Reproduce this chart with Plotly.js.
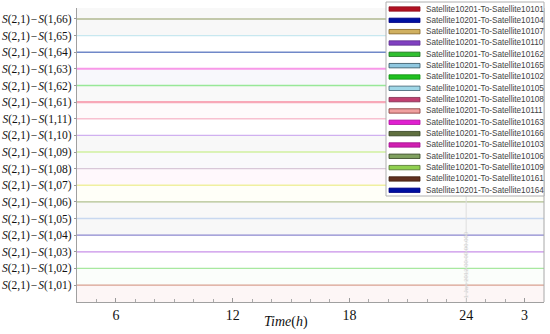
<!DOCTYPE html>
<html>
<head>
<meta charset="utf-8">
<script src="https://cdn.plot.ly/plotly-3.0.1.min.js"></script>
<style>html,body{margin:0;padding:0;background:#fff;}#chart{width:550px;height:334px;}</style>
</head>
<body>
<div id="chart"></div>
<script>
// ---- data ----
// target satellites, bottom row to top row
const targets = ['10101','10102','10103','10104','10105','10106','10107','10108','10109','10110','10111',
                 '10161','10162','10163','10164','10165','10166'];
// row labels (pairs), same order
const rowPairs = ['1,01','1,02','1,03','1,04','1,05','1,06','1,07','1,08','1,09','1,10','1,11',
                  '1,61','1,62','1,63','1,64','1,65','1,66'];
// access interval (hours) for each link, same order
const accessStart = [0,0,0,0,0,0,0,0,0,0,0,0,0,0,0,0,0];
const accessEnd   = [30,30,30,30,30,30,30,30,30,30,30,30,30,30,30,30,30];
// x tick labels
const xTickVals = [6, 12, 18, 24, 27];
const xTickText = ['6', '12', '18', '24', '3'];
// legend order
const legendOrder = ['10101','10104','10107','10110','10162','10165','10102','10105','10108','10111',
                     '10163','10166','10103','10106','10109','10161','10164'];
const markerTime = 24;
const markerText = '1 Jan 2012 00:00:00.000';

// ---- styles ----
const lineColors = ['#d8a090','#a8e8a0','#c890e8','#8c88d0','#c8d8f0','#b0c090','#f0f0a0','#d8c8d8','#d0f0a0',
                    '#d0b0f0','#f8c0d0','#f8a8b8','#98e898','#f898e8','#7088c8','#c8e8f0','#b0b890'];
const lineWidths = [1.3,1.3,1.3,1.3,1.3,1.3,1.3,1.3,1.3,1.3,1.3,2.3,1.3,2,1.3,1.3,1.3];
const swatchFill = {
  '10101':'#b01020','10104':'#0010a0','10107':'#d0b060','10110':'#8040c0','10162':'#30c030','10165':'#90c8e0',
  '10102':'#20c020','10105':'#a0d8e8','10108':'#c04070','10111':'#f0a0a0','10163':'#e020d0','10166':'#607040',
  '10103':'#d020b0','10106':'#80a060','10109':'#90d050','10161':'#603020','10164':'#0010a0'};
const swatchLine = {
  '10101':'#901020','10104':'#000080','10107':'#806020','10110':'#603090','10162':'#207020','10165':'#305060',
  '10102':'#109010','10105':'#406070','10108':'#803050','10111':'#803030','10163':'#b010a0','10166':'#304020',
  '10103':'#a01090','10106':'#304020','10109':'#507030','10161':'#402010','10164':'#000080'};
// background band colours, from below the first row upward
const bandColors = ['#fdf6f6','#fbfefb','#ffffff','#ffffff','#f8f8f8','#f8f8f8','#fffff8','#fff8fc','#f9f9fb',
                    '#f8f8f8','#ffffff','#fefafb','#f9f9f9','#f8f8fc','#ffffff','#ffffff','#f8f8f8','#f8f8f8'];

const W = 550, H = 334, M = {l: 77, r: 6, t: 8, b: 32};
const PW = W - M.l - M.r, PH = H - M.t - M.b;
const px2x = p => (p - M.l) / PW;
const px2y = p => (H - M.b - p) / PH;
const yRange = [-0.02, 17.66];

const traces = targets.map((t, i) => ({
  type: 'scatter', mode: 'lines',
  x: [accessStart[i], accessEnd[i]],
  y: [i + 1, i + 1],
  name: 'Satellite10201-To-Satellite' + t,
  line: {color: lineColors[i], width: lineWidths[i]},
  showlegend: false, hoverinfo: 'skip'
}));

const shapes = [];
for (let k = 0; k < bandColors.length; k++) {
  shapes.push({type: 'rect', xref: 'paper', yref: 'y', x0: 0, x1: 1,
    y0: k === 0 ? yRange[0] : k, y1: k === bandColors.length - 1 ? yRange[1] : k + 1,
    fillcolor: bandColors[k], line: {width: 0}, layer: 'below'});
}
shapes.push({type: 'line', xref: 'x', yref: 'paper', x0: markerTime, x1: markerTime, y0: 0, y1: 1,
  line: {color: '#dedede', width: 1}});
shapes.push({type: 'line', xref: 'paper', yref: 'paper', x0: 1, x1: 1, y0: 0, y1: 1,
  line: {color: '#a8a8a8', width: 1}});
shapes.push({type: 'rect', xref: 'paper', yref: 'paper', x0: px2x(386), x1: px2x(544), y0: px2y(196), y1: px2y(2),
  fillcolor: '#ffffff', line: {color: '#b0b0b0', width: 1}});

const annotations = [];
legendOrder.forEach((t, i) => {
  const yc = 9 + i * 11.33;
  shapes.push({type: 'rect', xref: 'paper', yref: 'paper', x0: px2x(389), x1: px2x(420),
    y0: px2y(yc + 2.2), y1: px2y(yc - 2.2), fillcolor: swatchFill[t], line: {color: swatchLine[t], width: 0.8}});
  annotations.push({xref: 'paper', yref: 'paper', x: px2x(424), y: px2y(yc), xanchor: 'left', yanchor: 'middle',
    text: 'Satellite10201-To-Satellite' + t, showarrow: false,
    font: {family: 'Liberation Sans, Arial, sans-serif', size: 8.2, color: '#444'}});
});
annotations.push({xref: 'x', yref: 'paper', x: markerTime, y: 0.005, xanchor: 'center', yanchor: 'bottom',
  text: markerText, textangle: -90, showarrow: false,
  font: {family: 'Liberation Sans, Arial, sans-serif', size: 6, color: '#cfcfcf'}});
annotations.push({xref: 'paper', yref: 'paper', x: px2x(286), y: px2y(322), xanchor: 'center', yanchor: 'middle',
  text: '<i>Time</i>(<i>h</i>)', showarrow: false,
  font: {family: 'Liberation Serif, Times New Roman, serif', size: 14, color: '#111'}});

const layout = {
  width: W, height: H, margin: M,
  paper_bgcolor: '#ffffff', plot_bgcolor: '#fafafa',
  showlegend: false,
  xaxis: {range: [4, 28], tickvals: xTickVals, ticktext: xTickText, ticks: 'inside', ticklen: 4,
    tickcolor: '#999', showgrid: false, zeroline: false, showline: true, linecolor: '#a0a0a0', linewidth: 1,
    minor: {dtick: 1, ticks: 'inside', ticklen: 3, tickcolor: '#aaa', showgrid: false},
    tickfont: {family: 'Liberation Serif, Times New Roman, serif', size: 14, color: '#111'}},
  yaxis: {range: yRange, tickvals: targets.map((t, i) => i + 1),
    ticktext: rowPairs.map(p => '<i>S</i>(2,1)\u200A\u2212\u200A<i>S</i>(' + p + ')'),
    ticks: 'outside', ticklen: 2, tickcolor: '#999', showgrid: false, zeroline: false,
    showline: true, linecolor: '#a0a0a0', linewidth: 1,
    tickfont: {family: 'Liberation Serif, Times New Roman, serif', size: 11.5, color: '#111'}},
  shapes: shapes, annotations: annotations
};

Plotly.newPlot('chart', traces, layout, {displayModeBar: false, staticPlot: true});
</script>
</body>
</html>
